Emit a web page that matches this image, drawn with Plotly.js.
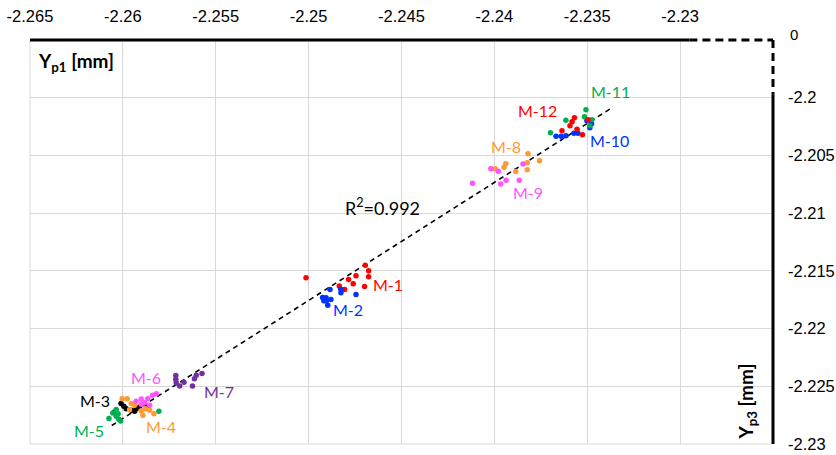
<!DOCTYPE html>
<html>
<head>
<meta charset="utf-8">
<script src="https://cdn.plot.ly/plotly-3.0.1.min.js"></script>
<style>html,body{margin:0;padding:0;background:#fff;}#chart{width:836px;height:455px;}</style>
</head>
<body>
<div id="chart"></div>
<script>
// Data (Y_p3 on x, Y_p1 on y), values in mm
const m1x = [-2.25014, -2.24695, -2.24677, -2.24677, -2.24745, -2.24785, -2.2476, -2.24806, -2.24835, -2.24699];
const m1y = [-2.2156, -2.21452, -2.21499, -2.21551, -2.21543, -2.21574, -2.21612, -2.21661, -2.21632, -2.21635];
const m2x = [-2.24885, -2.24827, -2.24826, -2.24745, -2.24925, -2.24906, -2.24918, -2.24905, -2.2488, -2.24897];
const m2y = [-2.21661, -2.2166, -2.2169, -2.21704, -2.2173, -2.21732, -2.21758, -2.21762, -2.21749, -2.21797];
const m3x = [-2.2601, -2.25995, -2.25982, -2.25955, -2.25937, -2.25928, -2.2591, -2.25869, -2.26045, -2.26029];
const m3y = [-2.2265, -2.22674, -2.22694, -2.22708, -2.22717, -2.22694, -2.2268, -2.22674, -2.22723, -2.22743];
const m4x = [-2.26004, -2.25977, -2.25955, -2.25964, -2.25937, -2.25901, -2.25892, -2.25878, -2.25833, -2.25856];
const m4y = [-2.22607, -2.22607, -2.2265, -2.22704, -2.22665, -2.22713, -2.22752, -2.22694, -2.22737, -2.22708];
const m5x = [-2.26036, -2.26054, -2.26075, -2.26036, -2.26022, -2.26012, -2.25806, -2.26026];
const m5y = [-2.22702, -2.22732, -2.2278, -2.2276, -2.22786, -2.22801, -2.22717, -2.22739];
const m6x = [-2.2582, -2.2584, -2.25866, -2.25901, -2.25929, -2.25901, -2.25856, -2.25883];
const m6y = [-2.22565, -2.22578, -2.22607, -2.2261, -2.2263, -2.22656, -2.22665, -2.22643];
const m7x = [-2.25715, -2.25715, -2.25713, -2.25694, -2.25671, -2.25625, -2.25615, -2.25605, -2.25574];
const m7y = [-2.22407, -2.22439, -2.2247, -2.22497, -2.22465, -2.22497, -2.22435, -2.22405, -2.2239];
const m8x = [-2.23819, -2.23757, -2.23823, -2.23939, -2.23948, -2.23996, -2.23885, -2.23823];
const m8y = [-2.20486, -2.20547, -2.20564, -2.20573, -2.20603, -2.20616, -2.2064, -2.20625];
const m9x = [-2.24019, -2.23979, -2.23846, -2.24118, -2.23966, -2.23937, -2.23866];
const m9y = [-2.20616, -2.20638, -2.20575, -2.20742, -2.20748, -2.20716, -2.20716];
const m10x = [-2.23668, -2.23641, -2.23615, -2.23572, -2.2355, -2.23502, -2.23477, -2.23486];
const m10y = [-2.20334, -2.20334, -2.2033, -2.20308, -2.20308, -2.2020, -2.20226, -2.2026];
const m11x = [-2.23507, -2.23515, -2.23615, -2.23698, -2.23486, -2.23475];
const m11y = [-2.20104, -2.20165, -2.20195, -2.20304, -2.20243, -2.20191];
const m12x = [-2.23569, -2.23582, -2.23593, -2.23636, -2.23555, -2.23526, -2.23496];
const m12y = [-2.20174, -2.20208, -2.20243, -2.20286, -2.20273, -2.20321, -2.20191];
const trendX = [-2.2606, -2.2337];
const trendY = [-2.2284, -2.2009];
const r2Label = 'R<sup>2</sup>=0.992';

const xTicks = [-2.265, -2.26, -2.255, -2.25, -2.245, -2.24, -2.235, -2.23];
const xTickText = ['-2.265', '-2.26', '-2.255', '-2.25', '-2.245', '-2.24', '-2.235', '-2.23'];
const yTicks = [-2.23, -2.225, -2.22, -2.215, -2.21, -2.205, -2.2];
const yTickText = ['-2.23', '-2.225', '-2.22', '-2.215', '-2.21', '-2.205', '-2.2'];
const yTopLabel = '0';

const series = [
  {name: 'M-1', x: m1x, y: m1y, color: '#FF0000', lx: -2.24572, ly: -2.21615},
  {name: 'M-2', x: m2x, y: m2y, color: '#0033FF', lx: -2.24787, ly: -2.21832},
  {name: 'M-3', x: m3x, y: m3y, color: '#000000', lx: -2.26152, ly: -2.22622},
  {name: 'M-4', x: m4x, y: m4y, color: '#FF9933', lx: -2.25797, ly: -2.22847},
  {name: 'M-5', x: m5x, y: m5y, color: '#00B050', lx: -2.26184, ly: -2.22882},
  {name: 'M-6', x: m6x, y: m6y, color: '#FF55FF', lx: -2.25878, ly: -2.22422},
  {name: 'M-7', x: m7x, y: m7y, color: '#7030A0', lx: -2.2548, ly: -2.22543},
  {name: 'M-8', x: m8x, y: m8y, color: '#FF9933', lx: -2.23937, ly: -2.20425},
  {name: 'M-9', x: m9x, y: m9y, color: '#FF55FF', lx: -2.23819, ly: -2.20825},
  {name: 'M-10', x: m10x, y: m10y, color: '#0033FF', lx: -2.23378, ly: -2.20373},
  {name: 'M-11', x: m11x, y: m11y, color: '#00B050', lx: -2.23373, ly: -2.19948},
  {name: 'M-12', x: m12x, y: m12y, color: '#FF0000', lx: -2.2377, ly: -2.20113}
];

const traces = [{
  x: trendX, y: trendY, mode: 'lines', type: 'scatter', hoverinfo: 'skip',
  line: {color: '#000', width: 1.6, dash: '5px,4px'}, showlegend: false
}];
series.forEach(s => traces.push({
  x: s.x, y: s.y, mode: 'markers', type: 'scatter', name: s.name,
  marker: {color: s.color, size: 5.5}, showlegend: false
}));

const annotations = series.map(s => ({
  x: s.lx, y: s.ly, xref: 'x', yref: 'y', text: s.name, showarrow: false,
  font: {family: 'Lato, Noto Sans, sans-serif', size: 16, color: s.color}
}));
annotations.push({x: -2.24604, y: -2.20946, xref: 'x', yref: 'y', text: r2Label, showarrow: false,
  font: {family: 'Lato, Noto Sans, sans-serif', size: 18, color: '#000'}});
annotations.push({x: 0.0075, y: 0.945, xref: 'paper', yref: 'paper', xanchor: 'left', yanchor: 'middle',
  text: '<b>Y<sub>p1</sub> [mm]</b>', showarrow: false,
  font: {family: 'Lato, Noto Sans, sans-serif', size: 19, color: '#000'}});
annotations.push({x: 0.965, y: 0.105, xref: 'paper', yref: 'paper', xanchor: 'center', yanchor: 'middle',
  text: '<b>Y<sub>p3</sub> [mm]</b>', textangle: -90, showarrow: false,
  font: {family: 'Lato, Noto Sans, sans-serif', size: 19, color: '#000'}});
annotations.push({x: 1.02, y: 1.013, xref: 'paper', yref: 'paper', xanchor: 'left', yanchor: 'middle',
  text: yTopLabel, showarrow: false,
  font: {family: 'Liberation Sans, Arial, sans-serif', size: 15, color: '#000'}});

const shapes = [
  // left and bottom light frame
  {type: 'line', xref: 'paper', yref: 'paper', x0: 0, x1: 0, y0: 0, y1: 1, line: {color: '#d9d9d9', width: 1}},
  {type: 'line', xref: 'paper', yref: 'paper', x0: 0, x1: 1, y0: 0, y1: 0, line: {color: '#d9d9d9', width: 1}},
  // top axis: solid then dashed (axis break)
  {type: 'line', xref: 'paper', yref: 'paper', x0: 0, x1: 0.8875, y0: 1, y1: 1, line: {color: '#000', width: 3}},
  {type: 'line', xref: 'paper', yref: 'paper', x0: 0.8875, x1: 1, y0: 1, y1: 1, line: {color: '#000', width: 3, dash: '8px,5px'}},
  // right axis: dashed then solid
  {type: 'line', xref: 'paper', yref: 'paper', x0: 1, x1: 1, y0: 1, y1: 0.8657, line: {color: '#000', width: 3, dash: '8px,5px'}},
  {type: 'line', xref: 'paper', yref: 'paper', x0: 1, x1: 1, y0: 0.8657, y1: 0, line: {color: '#000', width: 3}}
];

const layout = {
  width: 836, height: 455,
  margin: {l: 30, r: 63, t: 40, b: 11},
  paper_bgcolor: '#fff', plot_bgcolor: '#fff',
  showlegend: false,
  xaxis: {
    side: 'top', range: [-2.265, -2.225], tickvals: xTicks, ticktext: xTickText,
    showgrid: true, gridcolor: '#d9d9d9', gridwidth: 1, zeroline: false, showline: false,
    ticks: '', ticklabelstandoff: 14,
    tickfont: {family: 'Liberation Sans, Arial, sans-serif', size: 16.5, color: '#000'}
  },
  yaxis: {
    side: 'right', range: [-2.23, -2.195], tickvals: yTicks, ticktext: yTickText,
    showgrid: true, gridcolor: '#d9d9d9', gridwidth: 1, zeroline: false, showline: false,
    ticks: '', ticklabelstandoff: 14,
    tickfont: {family: 'Liberation Sans, Arial, sans-serif', size: 16.5, color: '#000'}
  },
  annotations: annotations,
  shapes: shapes
};

Plotly.newPlot('chart', traces, layout, {displayModeBar: false, staticPlot: true});
</script>
</body>
</html>
